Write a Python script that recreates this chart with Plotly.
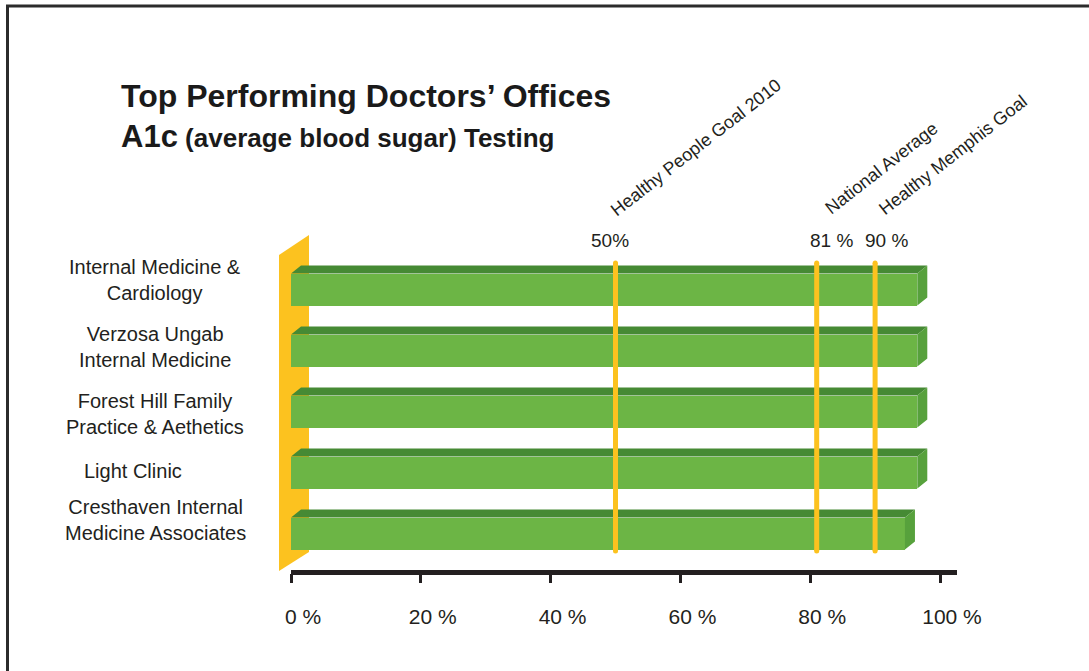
import plotly.graph_objects as go

# ---------------- data ----------------
offices = [
    "Internal Medicine &<br>Cardiology",
    "Verzosa Ungab<br>Internal Medicine",
    "Forest Hill Family<br>Practice & Aethetics",
    "Light Clinic",
    "Cresthaven Internal<br>Medicine Associates",
]
rates = [96.5, 96.5, 96.5, 96.5, 94.6]

goal_names = ["Healthy People Goal 2010", "National Average", "Healthy Memphis Goal"]
goal_values = [50, 81, 90]
goal_labels = ["50%", "81 %", "90 %"]

tick_values = [0, 20, 40, 60, 80, 100]
tick_labels = ["0 %", "20 %", "40 %", "60 %", "80 %", "100 %"]

# ---------------- layout geometry (pixels) ----------------
W, H = 1089, 671
X0PX, PXPU = 291.0, 6.49      # pixel of 0 %, pixels per percent
Y0PX, PXPC = 289.5, 61.0      # pixel of first category centre, pixels per category


def px_x(p):
    return (p - X0PX) / PXPU


def px_y(p):
    return (p - Y0PX) / PXPC


def pap_x(p):
    return p / W


def pap_y(p):
    return 1 - p / H


FONT = "Liberation Sans Narrow, Arial Narrow, Liberation Sans, Arial, sans-serif"
FRONT = "#6cb545"
TOP = "#468a34"
SIDE = "#57a13c"
YELLOW = "#fcc21f"
INK = "#231f20"

BAR_W = 32 / PXPC
DX = 10 / PXPU
DY = 8 / PXPC

fig = go.Figure()

cats = list(range(len(offices)))

# front faces
fig.add_trace(go.Bar(x=rates, y=cats, orientation="h", width=BAR_W,
                     marker=dict(color=FRONT, line=dict(width=0)),
                     showlegend=False, hovertext=[o.replace("<br>", " ") for o in offices],
                     hoverinfo="text+x"))

# top faces and side faces
tx, ty, sx, sy = [], [], [], []
for i, v in zip(cats, rates):
    t = i - BAR_W / 2
    b = i + BAR_W / 2
    tx += [0, v, v + DX, DX, 0, None]
    ty += [t, t, t - DY, t - DY, t, None]
    sx += [v, v + DX, v + DX, v, v, None]
    sy += [t, t - DY, b - DY, b, t, None]
fig.add_trace(go.Scatter(x=tx, y=ty, fill="toself", fillcolor=TOP, mode="lines",
                         line=dict(width=0, color=TOP), hoverinfo="skip", showlegend=False))
fig.add_trace(go.Scatter(x=sx, y=sy, fill="toself", fillcolor=SIDE, mode="lines",
                         line=dict(width=0, color=SIDE), hoverinfo="skip", showlegend=False))

# goal lines
for v in goal_values:
    fig.add_trace(go.Scatter(x=[v, v], y=[px_y(263), px_y(551)], mode="lines+markers",
                             line=dict(width=5, color=YELLOW),
                             marker=dict(size=5, color=YELLOW, line=dict(width=0)),
                             hoverinfo="skip", showlegend=False))

annotations = []
# goal value labels
value_shift = [-6, 15, 11]
for v, lab, s in zip(goal_values, goal_labels, value_shift):
    annotations.append(dict(x=v, xref="x", y=pap_y(240), yref="paper", text=lab,
                            showarrow=False, xshift=s, xanchor="center", yanchor="middle",
                            font=dict(family=FONT, size=19, color=INK)))
# rotated goal names
name_shift = [80, 65, 78]
name_y = [148, 168, 155]
for v, name, s, yy in zip(goal_values, goal_names, name_shift, name_y):
    annotations.append(dict(x=v, xref="x", y=pap_y(yy), yref="paper", text=name,
                            showarrow=False, xshift=s, textangle=-38,
                            xanchor="center", yanchor="middle",
                            font=dict(family=FONT, size=18, color=INK)))

# office labels
label_x = [155, 155, 155, 133, 155]
label_shift = [-10, -4, 2, -2, -14]
for i, (name, lx, ls) in enumerate(zip(offices, label_x, label_shift)):
    annotations.append(dict(x=pap_x(lx), xref="paper", y=i, yref="y", yshift=-ls,
                            text=name, showarrow=False, align="center",
                            xanchor="center", yanchor="middle",
                            font=dict(family=FONT, size=20, color=INK)))

# titles
annotations.append(dict(x=pap_x(119), xref="paper", y=pap_y(96), yref="paper",
                        text="<b>Top Performing Doctors’ Offices</b>", showarrow=False,
                        xanchor="left", yanchor="middle",
                        font=dict(family=FONT, size=32, color="#1a1a1a")))
annotations.append(dict(x=pap_x(119), xref="paper", y=pap_y(137), yref="paper",
                        text="<b><span style='font-size:31px'>A1c</span> (average blood sugar) Testing</b>",
                        showarrow=False, xanchor="left", yanchor="middle",
                        font=dict(family=FONT, size=26, color="#1a1a1a")))

# yellow wall behind the bars
wall_pts = [(px_x(279), px_y(255)), (px_x(309), px_y(235)),
            (px_x(309), px_y(552)), (px_x(279), px_y(571))]
wall_path = "M " + " L ".join(f"{x:.4f},{y:.4f}" for x, y in wall_pts) + " Z"

shapes = [
    dict(type="path", xref="x", yref="y", path=wall_path, fillcolor=YELLOW,
         line=dict(width=0), layer="below"),
    # axis line
    dict(type="line", xref="x", yref="paper", x0=0, x1=px_x(957),
         y0=pap_y(572.5), y1=pap_y(572.5), line=dict(color=INK, width=5)),
    # frame
    dict(type="line", xref="paper", yref="paper", x0=pap_x(7.5), x1=pap_x(7.5),
         y0=0, y1=pap_y(6), line=dict(color="#2b2b2b", width=3)),
    dict(type="line", xref="paper", yref="paper", x0=pap_x(6), x1=1,
         y0=pap_y(6), y1=pap_y(6), line=dict(color="#2b2b2b", width=3)),
]

fig.update_layout(
    width=W, height=H,
    margin=dict(l=0, r=0, t=0, b=0),
    paper_bgcolor="white", plot_bgcolor="white",
    showlegend=False,
    bargap=0,
    xaxis=dict(range=[px_x(0), px_x(W)], domain=[0, 1], anchor="free",
               position=pap_y(572.5), showline=False, showgrid=False, zeroline=False,
               tickvals=tick_values, ticktext=tick_labels, ticks="outside",
               ticklen=9, tickwidth=3, tickcolor=INK, ticklabelstandoff=16,
               ticklabelshift=12, fixedrange=True,
               tickfont=dict(family=FONT, size=21, color=INK)),
    yaxis=dict(range=[px_y(H), px_y(0)], domain=[0, 1], visible=False,
               showgrid=False, zeroline=False, fixedrange=True),
    annotations=annotations,
    shapes=shapes,
)

fig.write_html(
    "out.html",
    config={"displayModeBar": False},
    post_script="document.body.style.margin='0';document.body.style.overflow='hidden';",
)
